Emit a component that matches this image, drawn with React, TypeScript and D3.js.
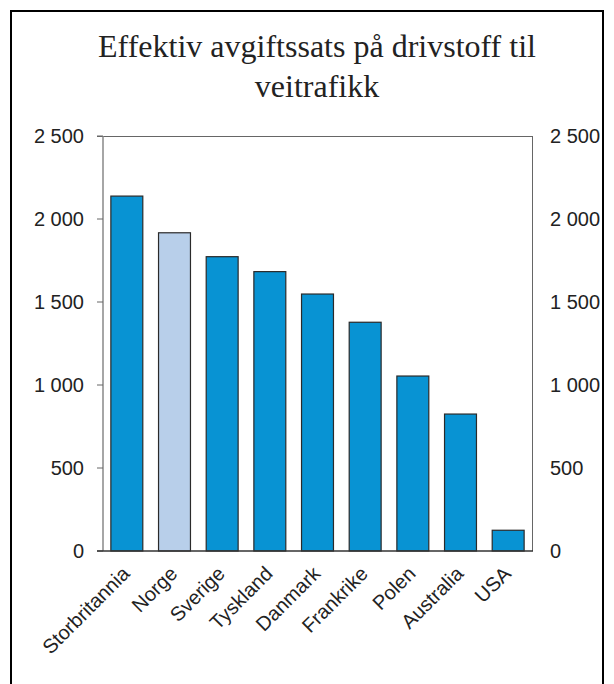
import React from "react";
import * as d3 from "d3";

const categories = ["Storbritannia", "Norge", "Sverige", "Tyskland", "Danmark", "Frankrike", "Polen", "Australia", "USA"];
const values = [2138, 1917, 1773, 1683, 1548, 1378, 1054, 825, 125];
const highlight = ["Norge"];
const tickValues = [0, 500, 1000, 1500, 2000, 2500];
const titleLines = ["Effektiv avgiftssats på drivstoff til", "veitrafikk"];

const W = 614;
const H = 684;
const plot = { left: 103, right: 532, top: 136, bottom: 551 };
const fmt = (v: number) => d3.format(",")(v).replace(/,/g, " ");

export default function App() {
  const x = d3.scaleBand<string>().domain(categories).range([plot.left, plot.right]).paddingInner(0.33).paddingOuter(0.165);
  const y = d3.scaleLinear().domain([0, 2500]).range([plot.bottom, plot.top]);
  const sans = "'Liberation Sans', Arial, sans-serif";
  return (
    <svg width={W} height={H} style={{ position: "absolute", left: 0, top: 0, background: "#fff" }}>
      <rect x={11} y={11} width={592} height={700} fill="#fff" stroke="#000" strokeWidth={2} />
      <g fontFamily="'Liberation Serif', 'Times New Roman', serif" fontSize={32} fill="#222" textAnchor="middle">
        {titleLines.map((t, i) => (
          <text key={i} x={317} y={57 + i * 40}>{t}</text>
        ))}
      </g>
      {/* plot border top/right */}
      <line x1={97} x2={plot.right} y1={plot.top + 0.5} y2={plot.top + 0.5} stroke="#666" strokeWidth={1} />
      <line x1={plot.right + 0.5} x2={plot.right + 0.5} y1={plot.top} y2={plot.bottom} stroke="#666" strokeWidth={1} />
      {/* bars */}
      {categories.map((c, i) => (
        <rect
          key={c}
          x={x(c)!}
          y={y(values[i])}
          width={x.bandwidth()}
          height={y(0) - y(values[i])}
          fill={highlight.includes(c) ? "#B8CFEA" : "#0893D3"}
          stroke="#2a2a2a"
          strokeWidth={1.2}
        />
      ))}
      {/* left axis */}
      <line x1={plot.left} x2={plot.left} y1={plot.top} y2={plot.bottom} stroke="#888" strokeWidth={1.5} />
      {tickValues.map((t) => (
        <line key={t} x1={97} x2={plot.left} y1={y(t)} y2={y(t)} stroke="#666" strokeWidth={1} />
      ))}
      <line x1={97} x2={plot.right + 1} y1={plot.bottom} y2={plot.bottom} stroke="#333" strokeWidth={1.5} />
      <g fontFamily={sans} fontSize={20} fill="#222">
        {tickValues.map((t) => (
          <text key={"l" + t} x={84} y={y(t) + 7} textAnchor="end">{fmt(t)}</text>
        ))}
        {tickValues.map((t) => (
          <text key={"r" + t} x={550} y={y(t) + 7} textAnchor="start">{fmt(t)}</text>
        ))}
        {categories.map((c) => {
          const cx = x(c)! + x.bandwidth() / 2 + 4;
          return (
            <text key={c} transform={`translate(${cx},${plot.bottom + 24}) rotate(-45)`} textAnchor="end">{c}</text>
          );
        })}
      </g>
    </svg>
  );
}
